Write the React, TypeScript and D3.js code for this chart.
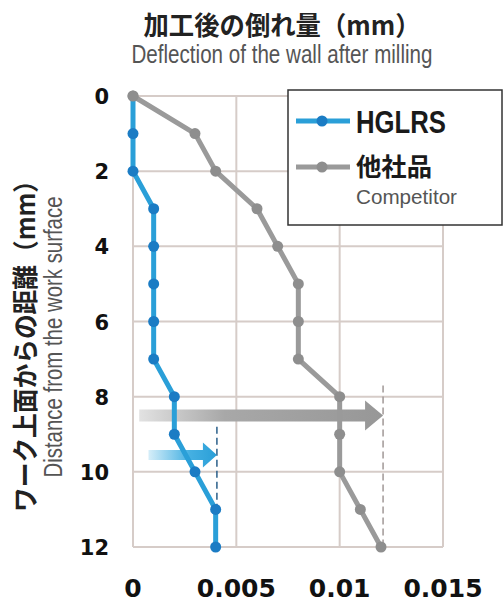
import React from "react";
import * as d3 from "d3";

const depths = [0, 1, 2, 3, 4, 5, 6, 7, 8, 9, 10, 11, 12];
const hglrs = [0, 0, 0, 0.001, 0.001, 0.001, 0.001, 0.001, 0.002, 0.002, 0.003, 0.004, 0.004];
const competitor = [0, 0.003, 0.004, 0.006, 0.007, 0.008, 0.008, 0.008, 0.01, 0.01, 0.01, 0.011, 0.012];
const yTicks = [0, 2, 4, 6, 8, 10, 12];
const xTicks = [0, 0.005, 0.01, 0.015];
const xTickLabels = ["0", "0.005", "0.01", "0.015"];
// annotation guides (data units)
const greyGuide = { x: 0.0121, y0: 7.7, y1: 12, arrowFrom: 0.0003, arrowY: 8.5 };
const blueGuide = { x: 0.00406, y0: 8.8, y1: 11, arrowFrom: 0.00075, arrowY: 9.55 };

const BLUE = "#2a9fd8";
const BLUE_DARK = "#1b7cc4";
const GREY = "#9a9a9a";
const GREY_DARK = "#8e8e8e";
const GRID = "#d6ccc8";

export default function App() {
  const x = d3.scaleLinear().domain([0, 0.015]).range([133, 443]);
  const y = d3.scaleLinear().domain([0, 12]).range([96, 547]);
  const line = d3
    .line<[number, number]>()
    .x((d) => x(d[0]))
    .y((d) => y(d[1]));
  const bluePts: [number, number][] = depths.map((d, i) => [hglrs[i], d]);
  const greyPts: [number, number][] = depths.map((d, i) => [competitor[i], d]);

  const arrow = (x0: number, x1: number, yc: number, shaftH: number, headL: number, headH: number) =>
    `M${x0},${yc - shaftH / 2}L${x1 - headL},${yc - shaftH / 2}L${x1 - headL},${yc - headH / 2}L${x1},${yc}L${x1 - headL},${yc + headH / 2}L${x1 - headL},${yc + shaftH / 2}L${x0},${yc + shaftH / 2}Z`;

  return (
    <svg width={504} height={603} style={{ position: "absolute", left: 0, top: 0, background: "#fff" }}>
      <defs>
        <linearGradient id="gArrow" x1="0" x2="1" y1="0" y2="0">
          <stop offset="0" stopColor="#e2e2e2" />
          <stop offset="0.35" stopColor="#a8a8a8" />
          <stop offset="1" stopColor="#979797" />
        </linearGradient>
        <linearGradient id="bArrow" x1="0" x2="1" y1="0" y2="0">
          <stop offset="0" stopColor="#d6eef9" />
          <stop offset="0.6" stopColor="#45b0e2" />
          <stop offset="1" stopColor="#2a9fd8" />
        </linearGradient>
      </defs>
      <rect x={0} y={0} width={504} height={603} fill="#fff" />

      {/* titles */}
      <text x={282} y={35} textAnchor="middle" fontFamily="'Noto Sans CJK JP'" fontWeight="bold" fontSize={26} fill="#222" textLength={277} lengthAdjust="spacingAndGlyphs">
        加工後の倒れ量（mm）
      </text>
      <text x={282} y={63} textAnchor="middle" fontFamily="'Liberation Sans', Arial" fontSize={25} fill="#555" textLength={301} lengthAdjust="spacingAndGlyphs">
        Deflection of the wall after milling
      </text>
      <text transform="translate(35,340) rotate(-90)" textAnchor="middle" fontFamily="'Noto Sans CJK JP'" fontWeight="bold" fontSize={26} fill="#222" textLength={344} lengthAdjust="spacingAndGlyphs">
        ワーク上面からの距離（mm）
      </text>
      <text transform="translate(62,337) rotate(-90)" textAnchor="middle" fontFamily="'Liberation Sans', Arial" fontSize={25} fill="#555" textLength={281} lengthAdjust="spacingAndGlyphs">
        Distance from the work surface
      </text>

      {/* grid */}
      {yTicks.map((t) => (
        <line key={"gy" + t} x1={x(0)} x2={x(0.015)} y1={y(t)} y2={y(t)} stroke={GRID} strokeWidth={2} />
      ))}
      {xTicks.map((t) => (
        <line key={"gx" + t} x1={x(t)} x2={x(t)} y1={y(0)} y2={y(12)} stroke={GRID} strokeWidth={2} />
      ))}

      {/* tick labels */}
      {yTicks.map((t) => (
        <text key={"ty" + t} x={109} y={y(t) + 8} textAnchor="end" fontFamily="'DejaVu Sans'" fontWeight="bold" fontSize={21} fill="#111">
          {t}
        </text>
      ))}
      {xTicks.map((t, i) => (
        <text key={"tx" + t} x={x(t)} y={597} textAnchor="middle" fontFamily="'DejaVu Sans'" fontWeight="bold" fontSize={25} fill="#111">
          {xTickLabels[i]}
        </text>
      ))}

      {/* guide dashed lines */}
      <line x1={x(greyGuide.x)} x2={x(greyGuide.x)} y1={y(greyGuide.y0)} y2={y(greyGuide.y1)} stroke="#a09896" strokeWidth={1.5} strokeDasharray="7,4" />
      <line x1={x(blueGuide.x)} x2={x(blueGuide.x)} y1={y(blueGuide.y0)} y2={y(blueGuide.y1)} stroke="#2a5f8a" strokeWidth={1.5} strokeDasharray="7,4" />

      {/* arrows */}
      <path d={arrow(x(greyGuide.arrowFrom), x(greyGuide.x), y(greyGuide.arrowY), 12, 18, 30)} fill="url(#gArrow)" />
      <path d={arrow(x(blueGuide.arrowFrom), x(blueGuide.x), y(blueGuide.arrowY), 10, 14, 25)} fill="url(#bArrow)" />

      {/* series */}
      <path d={line(greyPts) || ""} fill="none" stroke={GREY} strokeWidth={5} strokeLinejoin="round" />
      {greyPts.map((p, i) => (
        <circle key={"gp" + i} cx={x(p[0])} cy={y(p[1])} r={5.5} fill={GREY_DARK} />
      ))}
      <path d={line(bluePts.slice(1)) || ""} fill="none" stroke={BLUE} strokeWidth={5} strokeLinejoin="round" />
      <path d={line(bluePts.slice(0, 2)) || ""} fill="none" stroke={BLUE} strokeWidth={5} />
      {bluePts.slice(1).map((p, i) => (
        <circle key={"bp" + i} cx={x(p[0])} cy={y(p[1])} r={5.5} fill={BLUE_DARK} />
      ))}
      <circle cx={x(greyPts[0][0])} cy={y(greyPts[0][1])} r={5.5} fill={GREY_DARK} />

      {/* legend */}
      <rect x={288} y={90} width={214} height={135} fill="#fff" stroke="#333" strokeWidth={1.5} />
      <line x1={296} x2={350} y1={121} y2={121} stroke={BLUE} strokeWidth={5} />
      <circle cx={322} cy={121} r={5.5} fill={BLUE_DARK} />
      <text x={356} y={133} fontFamily="'Liberation Sans', Arial" fontWeight="bold" fontSize={32} fill="#1a1a1a" textLength={90} lengthAdjust="spacingAndGlyphs">
        HGLRS
      </text>
      <line x1={296} x2={350} y1={167} y2={167} stroke={GREY} strokeWidth={5} />
      <circle cx={322} cy={167} r={5.5} fill={GREY_DARK} />
      <text x={356} y={176} fontFamily="'Noto Sans CJK JP'" fontWeight="bold" fontSize={25} fill="#1a1a1a" textLength={76} lengthAdjust="spacingAndGlyphs">
        他社品
      </text>
      <text x={356} y={204} fontFamily="'Liberation Sans', Arial" fontSize={21} fill="#555" textLength={101} lengthAdjust="spacingAndGlyphs">
        Competitor
      </text>
    </svg>
  );
}
